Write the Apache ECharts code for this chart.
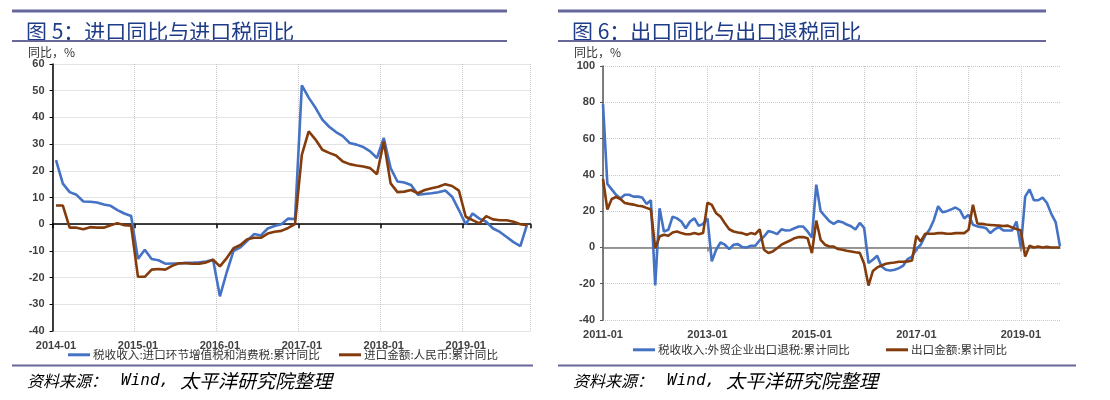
<!DOCTYPE html>
<html><head><meta charset="utf-8">
<script src="https://cdn.jsdelivr.net/npm/echarts@6/dist/echarts.min.js"></script>
<style>html,body{margin:0;padding:0;background:#fff}#c{width:1110px;height:400px}</style>
</head><body><div id="c"></div>
<script>
// ---- data ----
const leftStart = [2014, 1], leftCount = 70;
const rightStart = [2011, 1], rightCount = 106;
const leftNames = ['税收收入:进口环节增值税和消费税:累计同比', '进口金额:人民币:累计同比'];
const rightNames = ['税收收入:外贸企业出口退税:累计同比', '出口金额:累计同比'];
const leftTaxYoY = [
  24, 15.2, 12, 11, 8.5, 8.4, 8.1, 7.4, 6.9, 5.3, 4, 3.1,
  -13, -9.6, -13, -13.5, -14.8, -14.7, -14.7, -14.5, -14.5, -14.3, -14, -13.3,
  -27, -18, -10, -8.7, -6.2, -3.7, -4.2, -1.6, -0.7, 0, 2.1, 1.9,
  52, 47.4, 43.6, 39.2, 36.5, 34.5, 33, 30.4, 29.8, 28.9, 27.3, 24.8,
  32.3, 21, 16, 15.6, 14.7, 11, 11.3, 11.6, 12, 12.6, 10.3, 5.3,
  0, 4, 2.1, 0.9, -1.6, -2.9, -4.8, -6.7, -8.2, 0
];
const leftImportYoY = [
  7, 7, -1.3, -1.3, -1.9, -1.1, -1.3, -1.3, -0.4, 0.4, -0.4, -0.6,
  -19.7, -19.7, -17, -16.8, -17, -15.6, -14.6, -14.6, -14.8, -14.8, -14.3, -13.3,
  -15.8, -12.7, -9, -7.8, -5.6, -5.1, -5.1, -3.5, -2.8, -2.5, -1.4, 0,
  26, 34.8, 31.7, 27.9, 26.7, 25.7, 23.5, 22.5, 22, 21.6, 21, 18.7,
  31, 15.3, 12, 12.2, 12.8, 11.6, 12.8, 13.5, 14, 15, 14.3, 12.6,
  2.8, 1.5, 0.3, 3, 1.8, 1.5, 1.5, 0.9, 0, -0.4
];
const rightRebateYoY = [
  79, 35, 32, 29, 27, 29, 29, 28, 28, 27.5, 24, 26,
  -21, 21.6, 8.8, 9.7, 17, 16, 14.3, 10.6, 14.3, 16, 11.9, 13,
  16, -7.7, -1.3, 2.7, 1.5, -0.9, 1.5, 1.8, 0.2, 0, 0.9, 0.9,
  4, 6, 9, 8.4, 7.3, 10, 9.3, 9.5, 10.6, 11.5, 11.5, 8.8,
  5.5, 34.6, 20, 17.2, 14.5, 13, 14.5, 13.9, 12.6, 11.7, 9.9, 13.5,
  10.8, -8.6, -6.8, -4.6, -10.5, -12.3, -12.7, -12.3, -11.4, -10, -6.4, -5,
  -0.9, 1.5, 6.4, 9.7, 15, 22.7, 19.4, 20, 21, 22, 20.5, 16,
  18, 12.5, 11.6, 11.2, 10.6, 7.9, 10, 11.2, 9.3, 9.3, 9.3, 14.3,
  0, 28, 32, 26, 26, 27.5, 24.5, 18.5, 14, 0.5
];
const rightExportYoY = [
  37.7, 20.9, 26.7, 27.8, 26.7, 24.5, 24, 23.6, 23, 22.7, 21.8, 20.9,
  -0.5, 6, 7, 6.4, 8.2, 8.8, 7.9, 7.3, 7.3, 7.9, 7.3, 7.9,
  24.7, 23.4, 18.8, 17, 13.3, 10, 8.8, 8.2, 7.9, 7, 7.9, 7.3,
  10, -1.3, -3.1, -2.2, -0.4, 1.5, 2.7, 3.8, 5.1, 5.7, 5.7, 5.1,
  -3.1, 14.8, 4.2, 1.5, 0.5, 0.5, -0.9, -1.3, -1.8, -2.2, -2.7, -3,
  -9, -21, -13, -11, -10, -9, -8.6, -8.3, -7.9, -7.9, -7.7, -7.2,
  6.4, 3.3, 7.5, 7.5, 7.5, 7.9, 7.9, 7.5, 7.5, 7.9, 7.9, 7.9,
  9.7, 23.5, 13.2, 13, 12.6, 12.4, 12.2, 12, 11.8, 12, 11, 10.2,
  9.3, -5, 0.9, 0, 0.5, 0, 0.3, 0, 0, 0
];
const leftY = {min: -40, max: 60, interval: 10};
const rightY = {min: -40, max: 100, interval: 20};

function months(start, n) {
  const out = [];
  let y = start[0], m = start[1];
  for (let i = 0; i < n; i++) {
    out.push(y + '-' + (m < 10 ? '0' + m : m));
    m++; if (m > 12) { m = 1; y++; }
  }
  return out;
}
const leftCats = months(leftStart, leftCount);
const rightCats = months(rightStart, rightCount);

// ---- styles ----
const BLUE = '#4472C4', BROWN = '#843C0C', BAR = '#676799', TITLE = '#1f3c88';
const CJK = '"Noto Sans CJK SC"';
const labelStyle = {fontSize: 11, color: '#404040', fontWeight: 'bold', fontFamily: 'Liberation Sans'};
const dotted = {type: 'dotted', color: '#c8c8c8', width: 1};

const chart = echarts.init(document.getElementById('c'), null, {renderer: 'canvas'});

function labelAxis(gi, cats, gap, labInt) {
  return {type: 'category', gridIndex: gi, data: cats, boundaryGap: gap, position: 'bottom',
    axisLine: {show: false, onZero: false}, axisTick: {show: false},
    axisLabel: Object.assign({interval: labInt, margin: 9}, labelStyle),
    splitLine: {show: true, interval: 11, lineStyle: dotted}};
}
function zeroAxis(gi, cats, gap, tickInt, color) {
  return {type: 'category', gridIndex: gi, data: cats, boundaryGap: gap, position: 'top',
    axisLine: {show: true, onZero: true, lineStyle: {color: color, width: 1.5}},
    axisTick: {show: true, interval: tickInt, inside: true, length: 4, lineStyle: {color: color, width: 1.5}},
    axisLabel: {show: false}, splitLine: {show: false}};
}
function valAxis(gi, r, color) {
  return {type: 'value', gridIndex: gi, min: r.min, max: r.max, interval: r.interval,
    axisLine: {show: true, lineStyle: {color: color, width: 1.5}},
    axisTick: {show: true, length: 3, lineStyle: {color: color}},
    axisLabel: Object.assign({margin: 8}, labelStyle),
    splitLine: {show: true, lineStyle: dotted}};
}
function line(name, data, xi, yi, color) {
  return {type: 'line', name: name, data: data, xAxisIndex: xi, yAxisIndex: yi,
    showSymbol: false, symbol: 'none', lineStyle: {color: color, width: 2.6}, itemStyle: {color: color}};
}
function legend(name, left, top) {
  return {data: [name], left: left, top: top, icon: 'rect', itemWidth: 22, itemHeight: 3, itemGap: 0,
    textStyle: {fontSize: 11.6, color: '#333', fontFamily: CJK, padding: [0, 0, 0, -2]}, padding: 0};
}
function rect(x, y, w, h) {
  return {type: 'rect', shape: {x: x, y: y, width: w, height: h}, style: {fill: BAR}, silent: true};
}
function text(x, y, t, font, fill) {
  return {type: 'text', x: x, y: y, style: {text: t, font: font, fill: fill || '#000', verticalAlign: 'middle'}, silent: true};
}
function panelGraphics(dx, titleText, topW, botW) {
  return [
    rect(12 + dx, 9.5, topW, 3),
    text(26 + dx, 31, titleText, '21px ' + CJK, TITLE),
    rect(12 + dx, 40, topW, 2),
    text(28 + dx, 52, '同比，%', '12px ' + CJK, '#333'),
    rect(12 + dx, 364.5, botW, 2),
    text(27 + dx, 381, '资料来源：', 'italic 16px ' + CJK, '#000'),
    text(121 + dx, 381, 'Wind,', 'italic 16px "DejaVu Sans Mono"', '#000'),
    text(180 + dx, 381, '太平洋研究院整理', 'italic 19px ' + CJK, '#000')
  ];
}

chart.setOption({
  animation: false,
  backgroundColor: '#fff',
  grid: [
    {left: 52.6, top: 64, width: 478, height: 267},
    {left: 603, top: 66, width: 457, height: 254}
  ],
  xAxis: [
    labelAxis(0, leftCats, true, 11),
    zeroAxis(0, leftCats, true, 11, '#000'),
    labelAxis(1, rightCats, false, 23),
    zeroAxis(1, rightCats, false, 23, '#777')
  ],
  yAxis: [valAxis(0, leftY, '#000'), valAxis(1, rightY, '#555')],
  legend: [
    legend(leftNames[0], 68, 349),
    legend(leftNames[1], 339, 349),
    legend(rightNames[0], 633, 344),
    legend(rightNames[1], 886, 344)
  ],
  series: [
    line(leftNames[0], leftTaxYoY, 0, 0, BLUE),
    line(leftNames[1], leftImportYoY, 0, 0, BROWN),
    line(rightNames[0], rightRebateYoY, 2, 1, BLUE),
    line(rightNames[1], rightExportYoY, 2, 1, BROWN)
  ],
  graphic: [].concat(
    panelGraphics(0, '图 5：进口同比与进口税同比', 495, 521),
    panelGraphics(546, '图 6：出口同比与出口退税同比', 488, 518)
  )
});
</script></body></html>
